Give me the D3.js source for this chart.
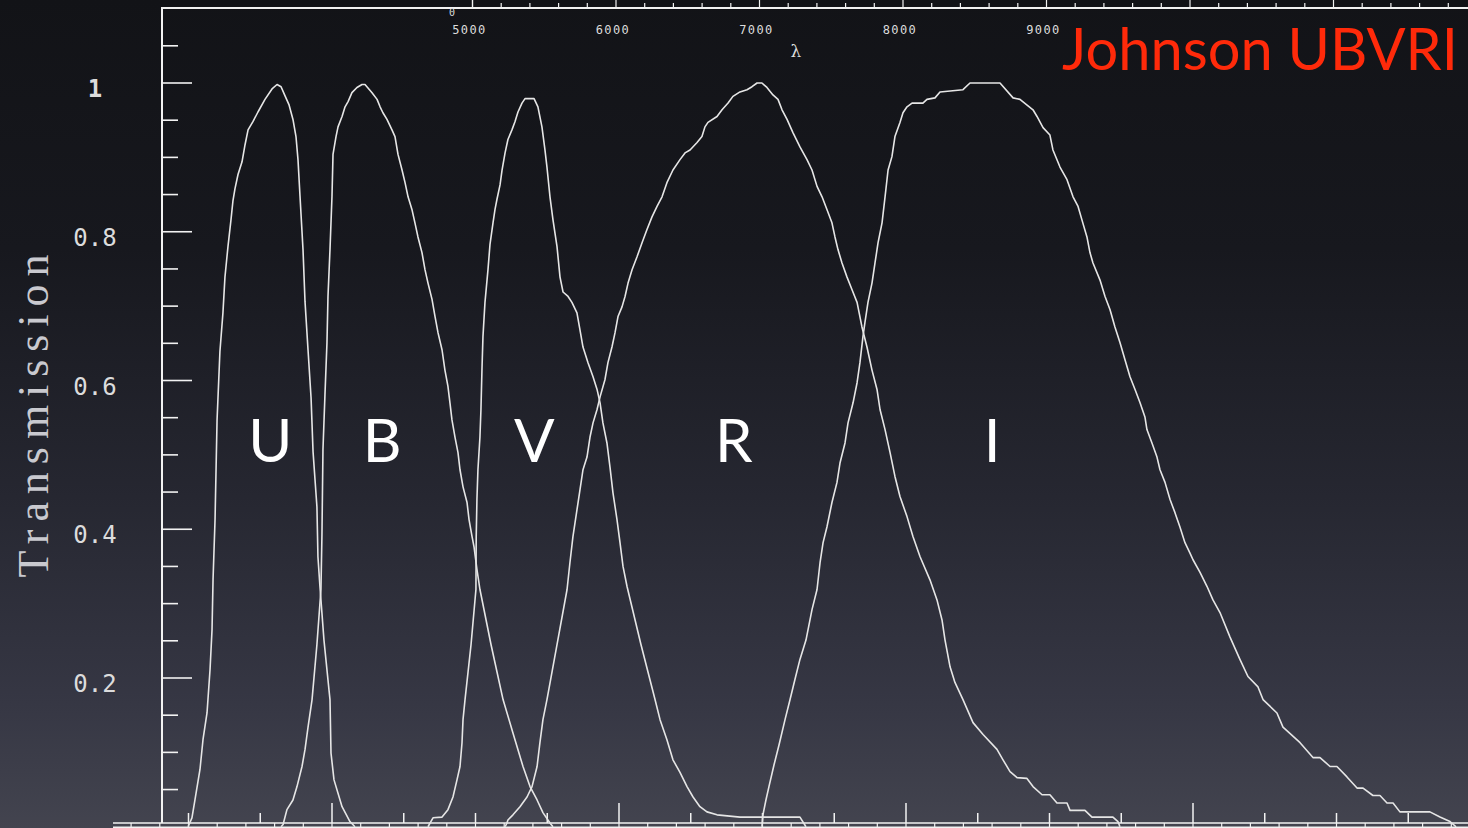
<!DOCTYPE html>
<html>
<head>
<meta charset="utf-8">
<script src="https://cdn.jsdelivr.net/npm/d3@7/dist/d3.min.js"></script>
<style>
  html, body { margin: 0; padding: 0; background: #111; overflow: hidden; }
  svg { display: block; }
</style>
</head>
<body>
<svg id="chart" width="1468" height="828"></svg>
<script>
// Johnson UBVRI filter transmission curves: [wavelength (Å), transmission]
const U = [[2997,0],[3024,0.012],[3045,0.036],[3080,0.077],[3101,0.117],[3129,0.153],[3150,0.211],[3164,0.265],[3171,0.332],[3185,0.413],[3199,0.547],[3219,0.639],[3240,0.691],[3254,0.739],[3275,0.780],[3296,0.816],[3310,0.842],[3324,0.858],[3345,0.877],[3373,0.894],[3394,0.917],[3415,0.937],[3449,0.948],[3484,0.961],[3533,0.978],[3582,0.992],[3617,0.998],[3645,0.995],[3672,0.983],[3700,0.971],[3728,0.951],[3749,0.928],[3763,0.897],[3777,0.848],[3798,0.776],[3812,0.706],[3833,0.641],[3854,0.577],[3868,0.504],[3895,0.430],[3902,0.363],[3916,0.323],[3944,0.251],[3979,0.184],[3986,0.171],[3993,0.099],[4014,0.063],[4070,0.027],[4125,0.007],[4160,0]];

const B = [[3645,0],[3659,0.003],[3686,0.023],[3728,0.036],[3756,0.054],[3791,0.081],[3812,0.104],[3833,0.134],[3861,0.171],[3895,0.245],[3923,0.319],[3930,0.393],[3937,0.507],[3951,0.581],[3965,0.651],[3972,0.713],[3986,0.776],[4000,0.848],[4007,0.904],[4028,0.928],[4042,0.941],[4070,0.955],[4091,0.968],[4112,0.975],[4139,0.987],[4174,0.994],[4209,0.998],[4230,0.998],[4279,0.987],[4314,0.978],[4335,0.968],[4355,0.960],[4383,0.951],[4418,0.937],[4439,0.928],[4460,0.904],[4488,0.883],[4509,0.866],[4530,0.847],[4557,0.830],[4578,0.812],[4599,0.793],[4627,0.772],[4648,0.749],[4669,0.731],[4697,0.709],[4718,0.686],[4739,0.664],[4767,0.641],[4787,0.614],[4808,0.592],[4822,0.570],[4836,0.547],[4857,0.524],[4878,0.503],[4892,0.480],[4913,0.457],[4941,0.436],[4955,0.413],[4976,0.390],[4990,0.376],[5010,0.346],[5031,0.319],[5108,0.245],[5192,0.171],[5261,0.126],[5331,0.081],[5380,0.054],[5429,0.036],[5470,0.019],[5519,0.005],[5540,0]];

const V = [[4669,0],[4683,0.005],[4704,0.012],[4767,0.013],[4808,0.023],[4843,0.040],[4871,0.063],[4892,0.081],[4906,0.113],[4913,0.144],[4927,0.171],[4969,0.245],[5003,0.319],[5005,0.390],[5010,0.440],[5017,0.480],[5031,0.524],[5038,0.561],[5045,0.614],[5052,0.659],[5066,0.705],[5087,0.749],[5101,0.783],[5122,0.812],[5136,0.830],[5150,0.844],[5171,0.863],[5185,0.883],[5206,0.906],[5226,0.924],[5254,0.937],[5275,0.948],[5296,0.961],[5324,0.973],[5345,0.979],[5408,0.979],[5435,0.968],[5463,0.941],[5484,0.910],[5498,0.887],[5519,0.847],[5540,0.816],[5568,0.780],[5589,0.739],[5610,0.719],[5645,0.713],[5672,0.705],[5707,0.691],[5728,0.668],[5749,0.645],[5784,0.624],[5819,0.605],[5847,0.588],[5868,0.570],[5888,0.543],[5916,0.516],[5937,0.484],[5958,0.449],[5986,0.413],[6007,0.382],[6028,0.350],[6056,0.323],[6153,0.245],[6251,0.171],[6286,0.144],[6334,0.117],[6376,0.090],[6425,0.073],[6474,0.054],[6516,0.040],[6564,0.027],[6613,0.020],[6683,0.016],[6843,0.013],[7261,0.013],[7303,0]];

const R = [[5206,0],[5219,0.005],[5226,0.009],[5261,0.016],[5310,0.027],[5359,0.040],[5394,0.054],[5429,0.081],[5449,0.113],[5470,0.144],[5498,0.171],[5568,0.245],[5638,0.319],[5658,0.355],[5679,0.390],[5707,0.426],[5728,0.453],[5749,0.480],[5777,0.497],[5798,0.524],[5819,0.543],[5847,0.561],[5868,0.578],[5902,0.601],[5923,0.624],[5951,0.645],[5972,0.664],[5993,0.686],[6021,0.699],[6042,0.713],[6063,0.731],[6091,0.749],[6125,0.766],[6160,0.785],[6195,0.803],[6230,0.820],[6265,0.834],[6300,0.847],[6334,0.866],[6376,0.883],[6425,0.897],[6460,0.906],[6495,0.910],[6544,0.920],[6578,0.928],[6599,0.941],[6620,0.947],[6683,0.955],[6718,0.964],[6760,0.973],[6794,0.982],[6843,0.988],[6892,0.991],[6927,0.995],[6962,1.000],[6996,1.000],[7031,0.994],[7073,0.984],[7108,0.978],[7136,0.964],[7171,0.951],[7213,0.933],[7261,0.914],[7310,0.897],[7345,0.883],[7380,0.861],[7415,0.847],[7449,0.830],[7484,0.812],[7505,0.793],[7526,0.776],[7554,0.758],[7589,0.739],[7624,0.722],[7659,0.705],[7693,0.672],[7728,0.645],[7763,0.614],[7798,0.588],[7819,0.561],[7854,0.534],[7889,0.503],[7923,0.471],[7958,0.444],[8007,0.417],[8049,0.390],[8098,0.363],[8167,0.332],[8216,0.305],[8251,0.278],[8272,0.251],[8307,0.215],[8341,0.194],[8397,0.171],[8467,0.140],[8537,0.124],[8634,0.104],[8676,0.090],[8725,0.074],[8774,0.066],[8843,0.065],[8885,0.054],[8948,0.043],[9003,0.043],[9052,0.032],[9122,0.032],[9143,0.022],[9247,0.022],[9296,0.013],[9442,0.013],[9477,0.007],[9491,0]];

const I = [[6996,0],[7003,0.016],[7024,0.036],[7045,0.054],[7080,0.083],[7115,0.110],[7157,0.144],[7192,0.171],[7226,0.198],[7261,0.225],[7303,0.251],[7345,0.292],[7380,0.319],[7401,0.355],[7422,0.382],[7449,0.403],[7484,0.436],[7519,0.463],[7540,0.489],[7575,0.516],[7596,0.543],[7631,0.570],[7659,0.597],[7679,0.624],[7700,0.659],[7714,0.678],[7735,0.705],[7763,0.731],[7784,0.758],[7805,0.785],[7833,0.812],[7854,0.847],[7875,0.883],[7902,0.901],[7923,0.928],[7958,0.947],[7979,0.960],[8007,0.968],[8042,0.973],[8118,0.973],[8146,0.978],[8202,0.980],[8237,0.988],[8397,0.991],[8446,1.000],[8655,1.000],[8746,0.980],[8794,0.978],[8885,0.964],[8913,0.955],[8955,0.940],[9003,0.930],[9024,0.910],[9073,0.887],[9122,0.870],[9164,0.847],[9199,0.834],[9226,0.816],[9261,0.793],[9282,0.772],[9303,0.758],[9352,0.735],[9387,0.713],[9422,0.695],[9456,0.672],[9491,0.651],[9526,0.628],[9561,0.605],[9596,0.588],[9631,0.570],[9665,0.551],[9679,0.534],[9714,0.516],[9749,0.497],[9770,0.480],[9805,0.463],[9840,0.440],[9875,0.422],[9909,0.403],[9944,0.382],[9979,0.368],[10000,0.359],[10049,0.342],[10098,0.323],[10139,0.305],[10188,0.288],[10258,0.255],[10327,0.225],[10383,0.202],[10453,0.188],[10488,0.171],[10585,0.153],[10627,0.134],[10746,0.113],[10836,0.093],[10885,0.093],[10955,0.081],[11003,0.081],[11073,0.067],[11143,0.052],[11185,0.052],[11254,0.042],[11303,0.042],[11352,0.032],[11394,0.032],[11442,0.020],[11651,0.020],[11721,0.013],[11791,0.007],[11833,0]];

// Band names and the wavelength each name sits at
const bandNames = ["U", "B", "V", "R", "I"];
const bandLabelWave = [3570, 4350, 5410, 6800, 8600];
const bandLabelLevel = 0.49;

// Axis ticks and labels
const yMajorTicks = [0.2, 0.4, 0.6, 0.8, 1.0];
const yTickLabels = ["0.2", "0.4", "0.6", "0.8", "1"];
const yMinorTicks = [0.05, 0.1, 0.15, 0.25, 0.3, 0.35, 0.45, 0.5, 0.55, 0.65, 0.7, 0.75, 0.85, 0.9, 0.95, 1.05];
const xLabelValues = [5000, 6000, 7000, 8000, 9000];
const xTickLabels = ["5000", "6000", "7000", "8000", "9000"];
const bottomTickValues = d3.range(3000, 12000, 500);
const rulerTickValues = d3.range(2600, 12000, 200);
const upperTickValues = d3.range(5200, 12000, 200);

const titleText = "Johnson UBVRI";
const yTitleText = "Transmission";
const xTitleText = "λ";

// ---- layout ----
const W = 1468, H = 828;
const frameLeft = 162, frameTop = 8;

const x = d3.scaleLinear().domain([4000, 10000]).range([332, 1193]);
const y = d3.scaleLinear().domain([0, 1]).range([826.75, 83]);

const svg = d3.select("#chart");

// slide background
const defs = svg.append("defs");
const grad = defs.append("linearGradient")
  .attr("id", "bg").attr("x1", 0).attr("y1", 0).attr("x2", 0).attr("y2", 1);
[[0, "#121317"], [0.3, "#17181e"], [0.6, "#262731"], [0.85, "#363744"], [1, "#43444f"]]
  .forEach(([o, c]) => grad.append("stop").attr("offset", o).attr("stop-color", c));
svg.append("rect").attr("width", W).attr("height", H).attr("fill", "url(#bg)");

const axisColor = "#f2f2f2";
const textColor = "#dcdcdc";

// frame: left and top axis lines
svg.append("line")
  .attr("x1", frameLeft).attr("x2", frameLeft)
  .attr("y1", frameTop).attr("y2", 823)
  .attr("stroke", axisColor).attr("stroke-width", 2);
svg.append("line")
  .attr("x1", frameLeft - 1).attr("x2", W)
  .attr("y1", frameTop).attr("y2", frameTop)
  .attr("stroke", axisColor).attr("stroke-width", 2);

// y ticks pointing inwards
svg.append("g").selectAll("line.major").data(yMajorTicks).join("line")
  .attr("x1", frameLeft).attr("x2", frameLeft + 30)
  .attr("y1", d => y(d)).attr("y2", d => y(d))
  .attr("stroke", axisColor).attr("stroke-width", 1.6);
svg.append("g").selectAll("line.minor").data(yMinorTicks).join("line")
  .attr("x1", frameLeft).attr("x2", frameLeft + 16)
  .attr("y1", d => y(d)).attr("y2", d => y(d))
  .attr("stroke", axisColor).attr("stroke-width", 1.6);

// y tick labels
svg.append("g").selectAll("text").data(yMajorTicks).join("text")
  .attr("x", 95)
  .attr("y", d => y(d) + 14)
  .attr("text-anchor", "middle")
  .attr("font-family", "'DejaVu Sans Mono', monospace")
  .attr("font-size", 24)
  .attr("font-weight", (d, i) => yTickLabels[i] === "1" ? "bold" : "normal")
  .attr("fill", textColor)
  .text((d, i) => yTickLabels[i]);

// y title
svg.append("text")
  .attr("transform", "translate(48,416) rotate(-90)")
  .attr("text-anchor", "middle")
  .attr("font-family", "'Liberation Serif', 'DejaVu Serif', serif")
  .attr("font-size", 44)
  .attr("textLength", 323)
  .attr("lengthAdjust", "spacing")
  .attr("fill", "#c9c9cf")
  .text(yTitleText);

// x tick labels along the top
svg.append("g").selectAll("text").data(xLabelValues).join("text")
  .attr("x", d => x(d) - 6)
  .attr("y", 34)
  .attr("text-anchor", "middle")
  .attr("font-family", "'DejaVu Sans Mono', monospace")
  .attr("font-size", 12)
  .attr("letter-spacing", 1.4)
  .attr("fill", textColor)
  .text((d, i) => xTickLabels[i]);

svg.append("text")
  .attr("x", 452).attr("y", 16)
  .attr("text-anchor", "middle")
  .attr("font-family", "'DejaVu Sans Mono', monospace")
  .attr("font-size", 10)
  .attr("fill", textColor)
  .text("0");

// x title
svg.append("text")
  .attr("x", 796).attr("y", 57)
  .attr("text-anchor", "middle")
  .attr("font-family", "'DejaVu Serif', serif")
  .attr("font-size", 17)
  .attr("fill", textColor)
  .text(xTitleText);

// neighbouring panel above: its baseline ticks peek in above the frame
svg.append("line")
  .attr("x1", x(5000) - 3).attr("x2", x(5000) - 3)
  .attr("y1", 0).attr("y2", frameTop)
  .attr("stroke", axisColor).attr("stroke-width", 1.4);
svg.append("g").selectAll("line").data(upperTickValues).join("line")
  .attr("x1", d => x(d) - 3).attr("x2", d => x(d) - 3)
  .attr("y1", d => d % 1000 === 0 ? 0 : 3).attr("y2", frameTop)
  .attr("stroke", axisColor).attr("stroke-width", 1.2);

// bottom axis ticks pointing up
svg.append("g").selectAll("line").data(bottomTickValues).join("line")
  .attr("x1", d => x(d)).attr("x2", d => x(d))
  .attr("y1", d => d % 2000 === 0 ? 803 : 813).attr("y2", 823)
  .attr("stroke", axisColor).attr("stroke-width", 1.5);

// neighbouring panel below: double baseline with small ruler ticks
svg.append("line")
  .attr("x1", 113).attr("x2", W).attr("y1", 823).attr("y2", 823)
  .attr("stroke", axisColor).attr("stroke-width", 1.6);
svg.append("line")
  .attr("x1", 113).attr("x2", W).attr("y1", 827.2).attr("y2", 827.2)
  .attr("stroke", axisColor).attr("stroke-width", 1.6);
svg.append("g").selectAll("line").data(rulerTickValues.filter(d => x(d) >= 113)).join("line")
  .attr("x1", d => x(d)).attr("x2", d => x(d))
  .attr("y1", 823).attr("y2", 828)
  .attr("stroke", axisColor).attr("stroke-width", 1.2);

// filter curves
const line = d3.line().x(d => x(d[0])).y(d => y(d[1]));
const curves = [U, B, V, R, I];
svg.append("g").selectAll("path").data(curves).join("path")
  .attr("d", line)
  .attr("fill", "none")
  .attr("stroke", "#e6e6e6")
  .attr("stroke-width", 1.6)
  .attr("stroke-linejoin", "round");

// band names
svg.append("g").selectAll("text").data(bandNames).join("text")
  .attr("x", (d, i) => x(bandLabelWave[i]))
  .attr("y", y(bandLabelLevel))
  .attr("text-anchor", "middle")
  .attr("font-family", "Lato, 'Open Sans', sans-serif")
  .attr("font-size", 60)
  .attr("fill", "#ffffff")
  .text(d => d);

// title
const title = svg.append("text")
  .attr("x", 1458).attr("y", 70)
  .attr("text-anchor", "end")
  .attr("font-family", "Lato, 'Open Sans', sans-serif")
  .attr("font-size", 62)
  .attr("fill", "#ff2a0a")
  .text(titleText);
const tw = title.node().getComputedTextLength();
if (tw > 0) title.attr("font-size", 62 * 396 / tw);
</script>
</body>
</html>
